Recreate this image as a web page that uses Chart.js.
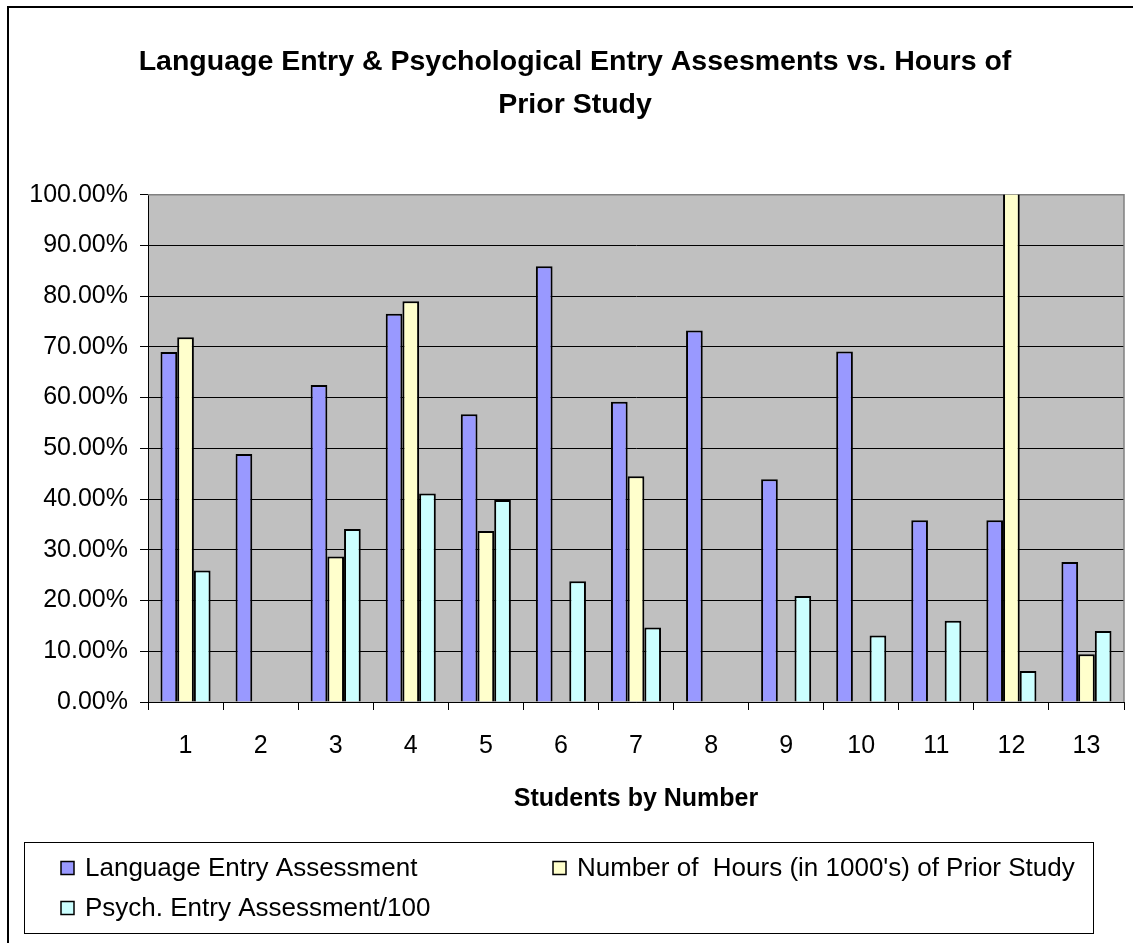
<!DOCTYPE html>
<html>
<head>
<meta charset="utf-8">
<script src="https://cdn.jsdelivr.net/npm/chart.js@4"></script>
<style>
  html, body { margin: 0; padding: 0; background: #fff; }
  canvas { display: block; }
</style>
</head>
<body>
<canvas id="graphique" width="1133" height="943"></canvas>
<script>
// categories
const students = ['1', '2', '3', '4', '5', '6', '7', '8', '9', '10', '11', '12', '13'];

// series values (fraction, shown as %)
const languageEntry = [0.690, 0.489, 0.625, 0.765, 0.567, 0.859, 0.592, 0.732, 0.439, 0.691, 0.358, 0.358, 0.276];
const priorHours    = [0.719, null, 0.287, 0.790, 0.337, null, 0.445, null, null, null, null, 1.60, 0.094];
const psychEntry    = [0.259, null, 0.341, 0.411, 0.398, 0.238, 0.147, null, 0.209, 0.131, 0.160, 0.061, 0.140];

const seriesNames = [
  'Language Entry Assessment',
  'Number of  Hours (in 1000\'s) of Prior Study',
  'Psych. Entry Assessment/100'
];
const seriesColors = ['#9999FF', '#FFFFCC', '#CCFFFF'];

const titleLines = ['Language Entry & Psychological Entry Assesments vs. Hours of', 'Prior Study'];
const xTitle = 'Students by Number';

const police = "'Liberation Sans', Arial, sans-serif";

// fond gris de la zone de tracé + bordures
const fondPlugin = {
  id: 'fond',
  beforeDraw(chart) {
    const {ctx, chartArea: a} = chart;
    ctx.save();
    ctx.fillStyle = '#C0C0C0';
    ctx.fillRect(a.left, a.top, a.right - a.left, a.bottom - a.top);
    // cadre extérieur
    ctx.strokeStyle = '#000';
    ctx.lineWidth = 2;
    ctx.strokeRect(8, 7, 1300, 1100);
    ctx.restore();
  },
  beforeDatasetsDraw(chart) {
    const {ctx, chartArea: a} = chart;
    ctx.save();
    ctx.strokeStyle = '#808080';
    ctx.lineWidth = 1.5;
    ctx.beginPath();
    ctx.moveTo(a.left, a.top);
    ctx.lineTo(a.right, a.top);
    ctx.lineTo(a.right, a.bottom);
    ctx.stroke();
    ctx.restore();
  }
};

// légende dessinée dans un cadre en bas
const legendePlugin = {
  id: 'legende',
  afterDraw(chart) {
    const ctx = chart.ctx;
    const places = [{x: 61, y: 868}, {x: 553, y: 868}, {x: 61, y: 908}];
    ctx.save();
    ctx.strokeStyle = '#000';
    ctx.lineWidth = 1;
    ctx.strokeRect(24.5, 842.5, 1069, 91);
    ctx.font = '26px ' + police;
    ctx.textBaseline = 'middle';
    ctx.textAlign = 'left';
    for (let i = 0; i < seriesNames.length; i += 1) {
      const p = places[i];
      ctx.fillStyle = seriesColors[i];
      ctx.fillRect(p.x, p.y - 6.5, 13, 13);
      ctx.lineWidth = 1.5;
      ctx.strokeRect(p.x, p.y - 6.5, 13, 13);
      ctx.fillStyle = '#000';
      ctx.fillText(seriesNames[i], p.x + 24, p.y + 1);
    }
    ctx.restore();
  }
};

const data = {
  labels: students,
  datasets: [languageEntry, priorHours, psychEntry].map((valeurs, i) => ({
    label: seriesNames[i],
    data: valeurs,
    backgroundColor: seriesColors[i],
    borderColor: '#000',
    borderWidth: 2,
    categoryPercentage: 0.667,
    barPercentage: 1.0
  }))
};

const config = {
  type: 'bar',
  data: data,
  options: {
    responsive: false,
    devicePixelRatio: 1,
    animation: false,
    layout: { padding: { left: 26, right: 9, top: 0, bottom: 0 } },
    plugins: {
      legend: { display: false },
      tooltip: { enabled: false },
      title: {
        display: true,
        text: titleLines,
        color: '#000',
        font: { family: police, size: 28.5, weight: 'bold', lineHeight: 1.52 },
        padding: { top: 40, bottom: 68 }
      }
    },
    scales: {
      x: {
        afterFit(scale) { scale.height = 241; },
        grid: {
          display: true,
          drawOnChartArea: false,
          drawTicks: true,
          tickLength: 8,
          color: '#000',
          offset: true
        },
        border: { display: true, color: '#000', width: 1 },
        ticks: {
          color: '#000',
          font: { family: police, size: 25 },
          padding: 21,
          maxRotation: 0
        },
        title: {
          display: true,
          text: xTitle,
          color: '#000',
          font: { family: police, size: 25, weight: 'bold' },
          padding: { top: 0, bottom: 129 }
        }
      },
      y: {
        min: 0,
        max: 1,
        afterFit(scale) { scale.width = 122; },
        grid: {
          color: '#000',
          lineWidth: 1,
          drawTicks: true,
          tickLength: 8,
          tickColor: '#000'
        },
        border: { display: true, color: '#000', width: 1 },
        ticks: {
          stepSize: 0.1,
          color: '#000',
          font: { family: police, size: 25 },
          padding: 12,
          callback: (v) => (v * 100).toFixed(2) + '%'
        }
      }
    }
  },
  plugins: [fondPlugin, legendePlugin]
};

const graphique = new Chart(document.querySelector('#graphique'), config);
</script>
</body>
</html>
